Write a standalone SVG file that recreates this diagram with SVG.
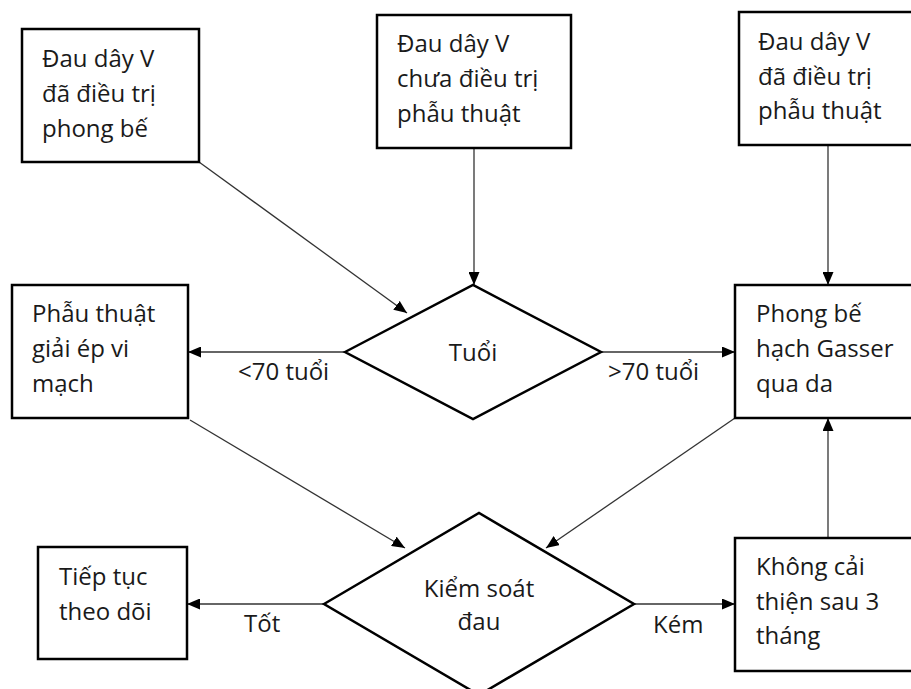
<svg xmlns="http://www.w3.org/2000/svg" width="911" height="689" viewBox="0 0 911 689">
<style>
.box{fill:#fff;stroke:#000;stroke-width:2.5}
.dia{fill:#fff;stroke:#000;stroke-width:2.5;stroke-linejoin:miter}
.t{font-family:"Open Sans","Noto Sans",sans-serif;font-size:24px;fill:#1a1a1a}
.c{text-anchor:middle}
.conn line{stroke:#333;stroke-width:1.3;marker-end:url(#ah)}
</style>
<defs>
<marker id="ah" markerUnits="userSpaceOnUse" markerWidth="13" markerHeight="11" refX="13" refY="5.5" orient="auto">
<path d="M0,0 L13,5.5 L0,11 z" fill="#000"/>
</marker>
</defs>
<rect width="911" height="689" fill="#fff"/>
<g id="connectors" class="conn">
<line x1="199" y1="162" x2="407" y2="313"/>
<line x1="474" y1="148" x2="474" y2="285"/>
<line x1="828" y1="145" x2="828" y2="285"/>
<line x1="345" y1="352" x2="188" y2="352"/>
<line x1="601" y1="352" x2="735" y2="352"/>
<line x1="190" y1="420" x2="405" y2="548"/>
<line x1="735" y1="418" x2="546" y2="548"/>
<line x1="324" y1="604" x2="187" y2="604"/>
<line x1="634" y1="604" x2="735" y2="604"/>
<line x1="828" y1="538" x2="828" y2="418"/>
</g>
<g id="n1">
<rect class="box" x="22" y="29" width="177" height="133"/>
<text class="t" x="42" y="67">Đau dây V</text>
<text class="t" x="42" y="102">đã điều trị</text>
<text class="t" x="42" y="137">phong bế</text>
</g>
<g id="n2">
<rect class="box" x="377" y="15" width="194" height="133"/>
<text class="t" x="397" y="52">Đau dây V</text>
<text class="t" x="397" y="87">chưa điều trị</text>
<text class="t" x="397" y="122">phẫu thuật</text>
</g>
<g id="n3">
<rect class="box" x="739" y="12" width="180" height="133"/>
<text class="t" x="758" y="50">Đau dây V</text>
<text class="t" x="758" y="85">đã điều trị</text>
<text class="t" x="758" y="119">phẫu thuật</text>
</g>
<g id="n4">
<rect class="box" x="12" y="285" width="176" height="133"/>
<text class="t" x="32" y="322">Phẫu thuật</text>
<text class="t" x="32" y="357">giải ép vi</text>
<text class="t" x="32" y="392">mạch</text>
</g>
<g id="n5">
<polygon class="dia" points="345,352 473,285 601,352 473,419"/>
<text class="t c" x="473" y="361">Tuổi</text>
</g>
<g id="n6">
<rect class="box" x="735" y="285" width="184" height="133"/>
<text class="t" x="756" y="322">Phong bế</text>
<text class="t" x="756" y="357">hạch Gasser</text>
<text class="t" x="756" y="392">qua da</text>
</g>
<g id="n7">
<rect class="box" x="38" y="547" width="149" height="112"/>
<text class="t" x="59" y="585">Tiếp tục</text>
<text class="t" x="59" y="620">theo dõi</text>
</g>
<g id="n8">
<polygon class="dia" points="324,604 479,513 634,604 479,695"/>
<text class="t c" x="479" y="597">Kiểm soát</text>
<text class="t c" x="479" y="630">đau</text>
</g>
<g id="n9">
<rect class="box" x="735" y="538" width="184" height="133"/>
<text class="t" x="756" y="575">Không cải</text>
<text class="t" x="756" y="610">thiện sau 3</text>
<text class="t" x="756" y="644">tháng</text>
</g>
<g id="labels">
<text class="t" x="238" y="380">&lt;70 tuổi</text>
<text class="t" x="608" y="380">&gt;70 tuổi</text>
<text class="t" x="244" y="632">Tốt</text>
<text class="t" x="653" y="633">Kém</text>
</g>
</svg>
